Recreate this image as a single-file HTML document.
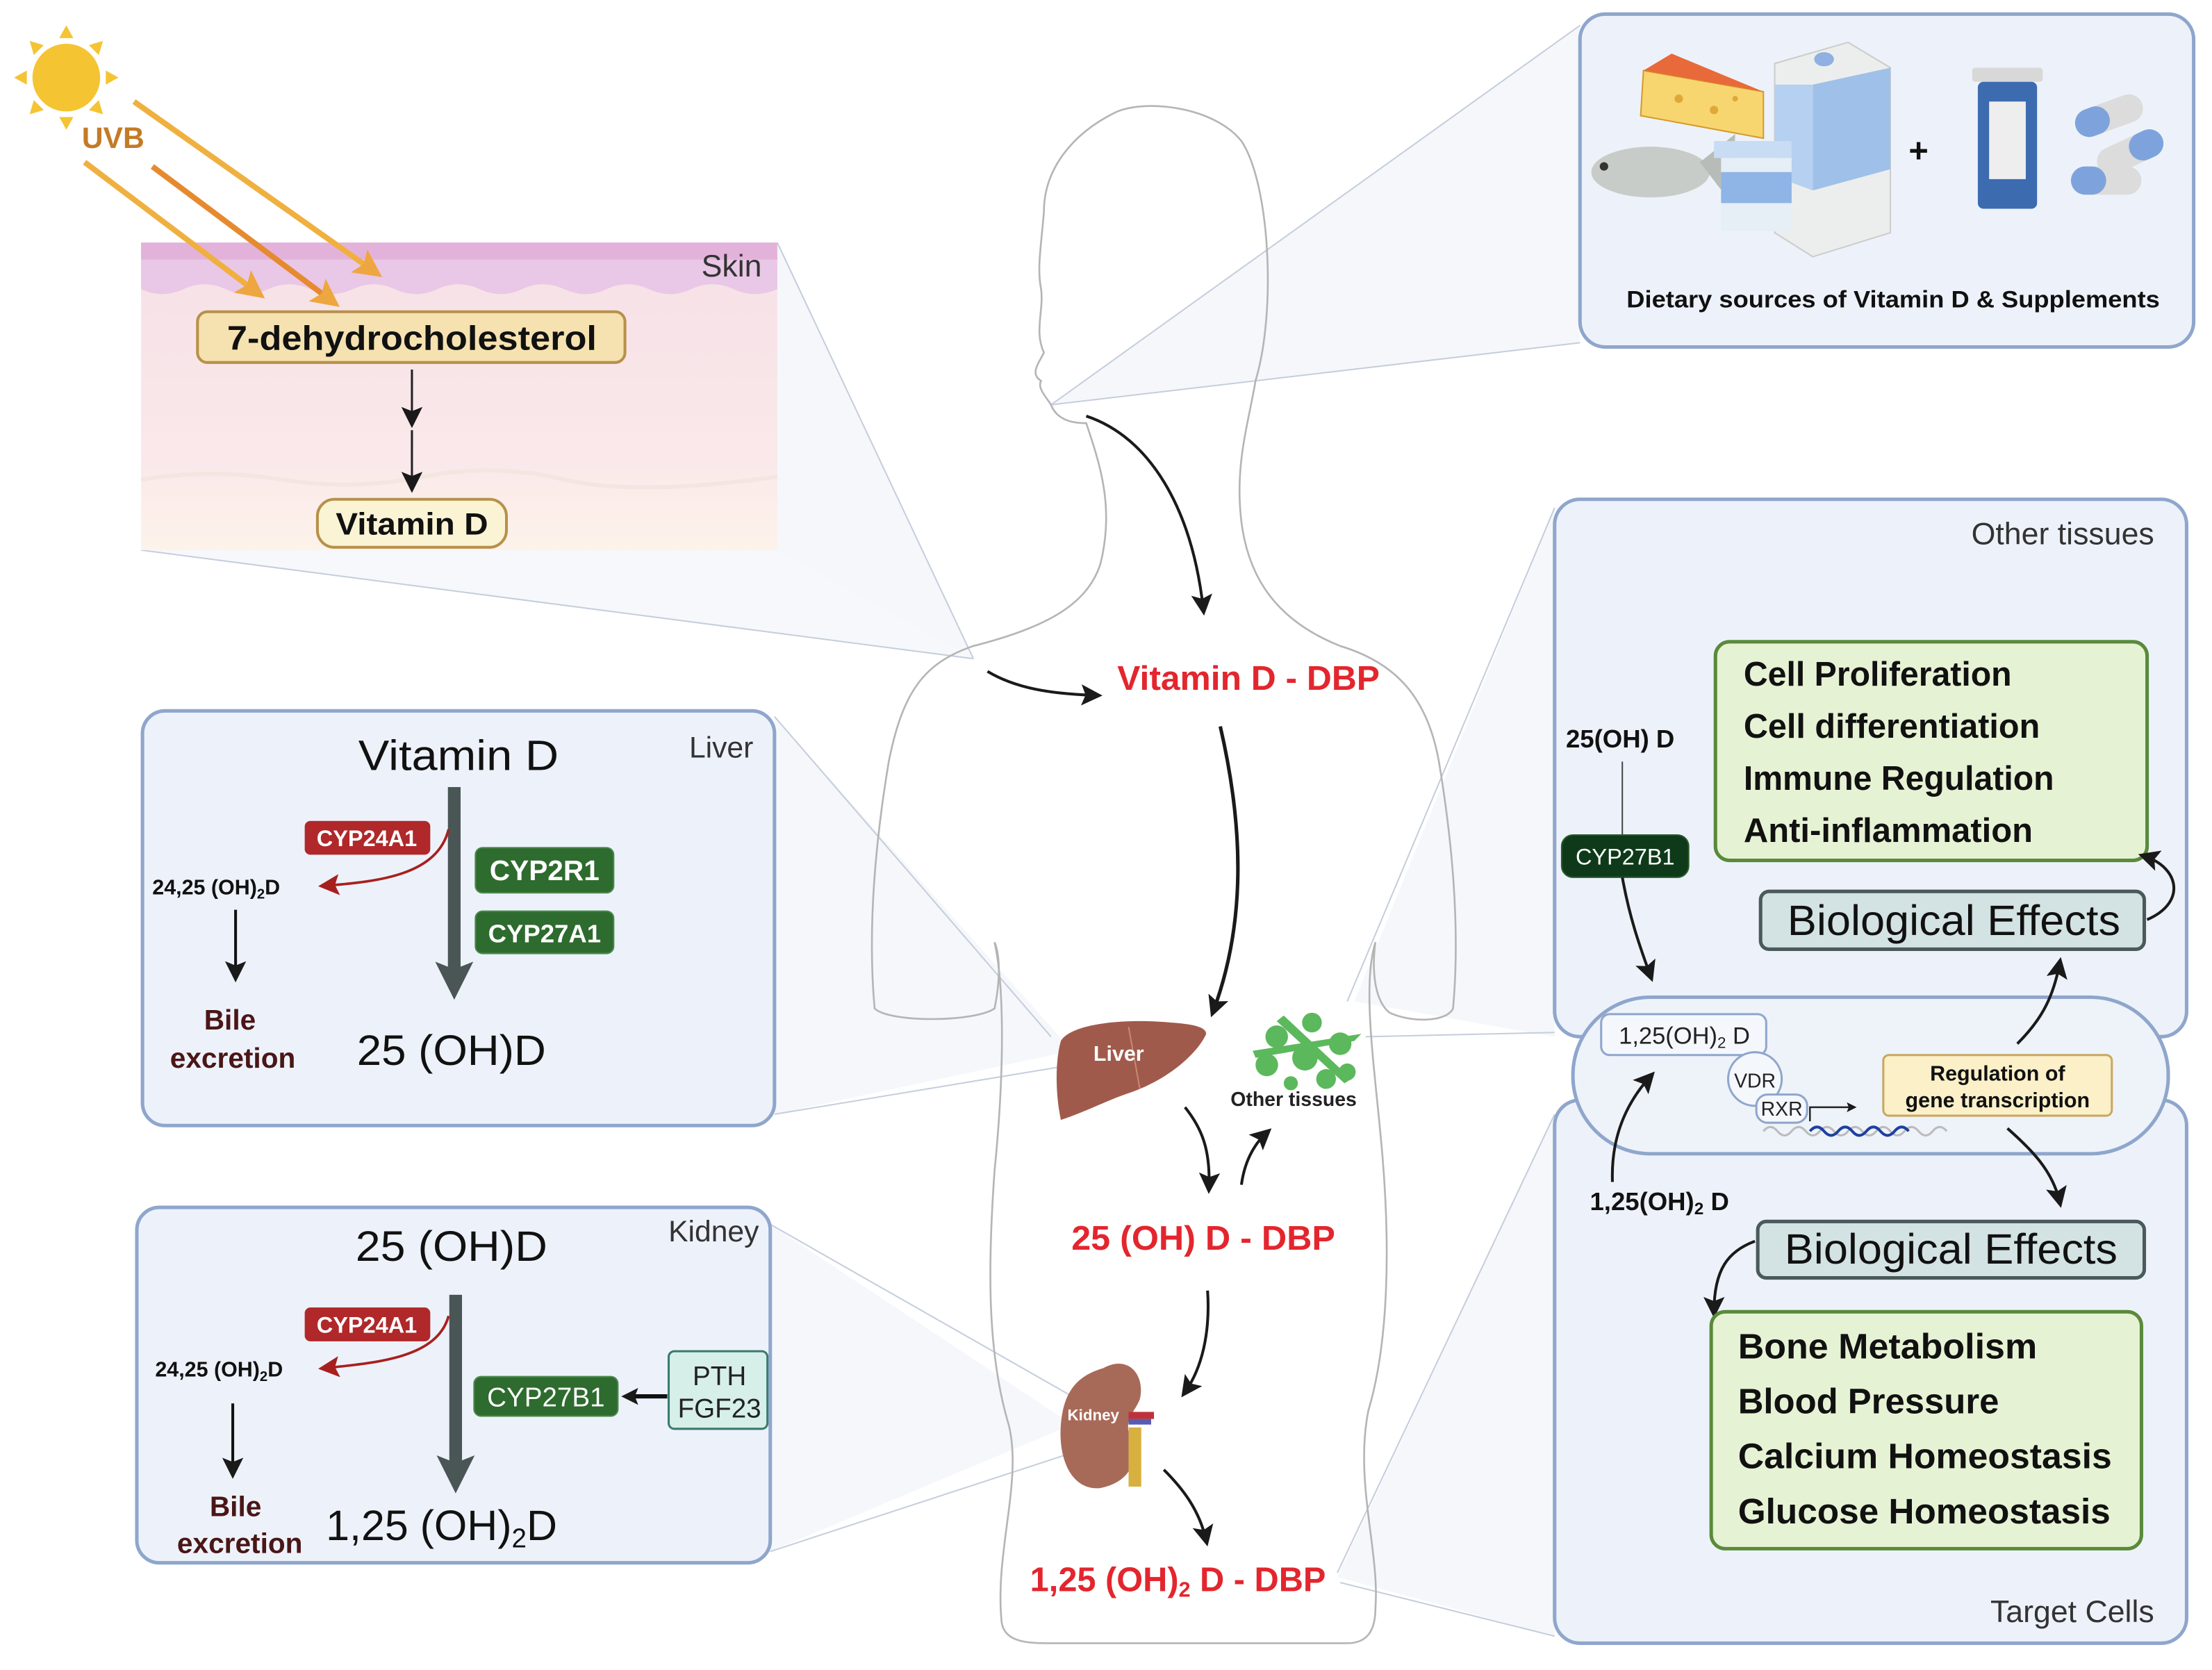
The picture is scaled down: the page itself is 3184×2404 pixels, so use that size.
<!DOCTYPE html>
<html><head><meta charset="utf-8"><style>
html,body{margin:0;padding:0;background:#fff;}
svg{display:block;}
text{font-family:"Liberation Sans",sans-serif;}
</style></head><body>
<svg width="3184" height="2404" viewBox="0 0 1568 1184" preserveAspectRatio="none" xmlns="http://www.w3.org/2000/svg">
<defs>
<marker id="ab" viewBox="0 0 10 10" refX="7" refY="5" markerUnits="userSpaceOnUse" markerWidth="15" markerHeight="15" orient="auto"><path d="M0,0 L10,5 L0,10 L2,5z" fill="#1a1a1a"/></marker>
<marker id="ab2" viewBox="0 0 10 10" refX="7" refY="5" markerUnits="userSpaceOnUse" markerWidth="12" markerHeight="12" orient="auto"><path d="M0,0 L10,5 L0,10 L2,5z" fill="#1a1a1a"/></marker>
<marker id="ab3" viewBox="0 0 10 10" refX="7" refY="5" markerUnits="userSpaceOnUse" markerWidth="7" markerHeight="7" orient="auto"><path d="M0,0 L10,5 L0,10 L2,5z" fill="#1a1a1a"/></marker>
<marker id="ag" viewBox="0 0 10 10" refX="6" refY="5" markerWidth="3" markerHeight="3" orient="auto"><path d="M0,0 L10,5 L0,10 L2,5z" fill="#4a5656"/></marker>
<marker id="ar" viewBox="0 0 10 10" refX="7" refY="5" markerUnits="userSpaceOnUse" markerWidth="15" markerHeight="15" orient="auto"><path d="M0,0 L10,5 L0,10 L2,5z" fill="#a8201e"/></marker>
<marker id="ao" viewBox="0 0 10 10" refX="7" refY="5" markerWidth="5" markerHeight="5" orient="auto"><path d="M0,0 L10,5 L0,10 L2,5z" fill="#eea640"/></marker>
<linearGradient id="skin" x1="0" y1="0" x2="0" y2="1">
<stop offset="0" stop-color="#f6e1e6"/><stop offset="0.7" stop-color="#fae8ea"/><stop offset="1" stop-color="#fdf3ea"/></linearGradient>
</defs>

<polygon points="551,172 551,390 690,467" fill="#eef2f8" opacity="0.6"/>
<polygon points="100,390 551,390 690,467" fill="#eef2f8" opacity="0.5"/>
<line x1="551" y1="172" x2="690" y2="467" stroke="#c5cedc" stroke-width="1"/>
<line x1="100" y1="390" x2="690" y2="467" stroke="#c5cedc" stroke-width="1"/>
<polygon points="1120,18 1120,243 745,287" fill="#eef2f8" opacity="0.6"/>
<line x1="1120" y1="18" x2="745" y2="287" stroke="#c5cedc"/>
<line x1="1120" y1="243" x2="745" y2="287" stroke="#c5cedc"/>
<polygon points="549,508 549,790 760,745" fill="#eef2f8" opacity="0.6"/>
<line x1="549" y1="508" x2="745" y2="735" stroke="#c5cedc"/>
<line x1="549" y1="790" x2="760" y2="755" stroke="#c5cedc"/>
<polygon points="546,868 546,1100 760,1010" fill="#eef2f8" opacity="0.6"/>
<line x1="546" y1="868" x2="760" y2="990" stroke="#c5cedc"/>
<line x1="546" y1="1100" x2="760" y2="1030" stroke="#c5cedc"/>
<polygon points="1102,360 1102,735 960,710" fill="#eef2f8" opacity="0.6"/>
<line x1="1102" y1="360" x2="955" y2="710" stroke="#c5cedc"/>
<line x1="1102" y1="732" x2="968" y2="735" stroke="#c5cedc"/>
<polygon points="1102,790 1102,1160 948,1118" fill="#eef2f8" opacity="0.6"/>
<line x1="1102" y1="790" x2="948" y2="1115" stroke="#c5cedc"/>
<line x1="1102" y1="1160" x2="950" y2="1122" stroke="#c5cedc"/>

<path d="M745,287 C750,300 765,300 770,300 C780,330 790,360 780,400 C770,430 740,445 690,458 C655,470 640,490 630,540 C620,600 615,660 620,715 C630,725 690,725 705,715 C710,690 708,675 705,668 C712,700 712,760 705,830 C700,900 700,960 715,1010 C725,1050 705,1100 710,1150 C712,1165 730,1165 745,1165 L955,1165 C970,1165 975,1155 975,1140 C978,1100 960,1050 970,1000 C985,950 985,880 980,820 C975,760 965,700 975,668 C972,690 975,710 985,718 C1000,725 1025,725 1030,715 C1035,660 1030,600 1020,540 C1012,495 990,470 950,458 C905,440 885,410 880,370 C875,330 885,300 890,270 C905,220 900,130 880,100 C860,75 810,70 790,80 C760,95 740,120 740,150 C738,175 735,190 738,205 C740,220 733,235 740,250 C736,258 730,265 738,270 C735,275 742,282 745,287 Z" fill="none" stroke="#b5b5b5" stroke-width="1.3"/>

<g fill="#f5c433">
<circle cx="47" cy="55" r="24"/>
<polygon points="47,18 42,27 52,27"/><polygon points="47,92 42,83 52,83"/>
<polygon points="10,55 19,50 19,60"/><polygon points="84,55 75,50 75,60"/>
<polygon points="21,29 24,39 31,32"/><polygon points="73,29 63,32 70,39"/>
<polygon points="21,81 31,78 24,71"/><polygon points="73,81 70,71 63,78"/>
</g>
<text x="58" y="105" font-size="21" font-weight="bold" fill="#c47a26">UVB</text>

<rect x="100" y="172" width="451" height="218" fill="url(#skin)"/>
<path d="M100,172 H551 V205 Q535,212 520,205 T490,205 T460,205 T430,205 T400,205 T370,205 T340,205 T310,205 T280,205 T250,205 T220,205 T190,205 T160,205 T130,205 T100,205 Z" fill="#e9c7e6"/>
<rect x="100" y="172" width="451" height="12" fill="#e3b2da"/>
<path d="M100,340 Q150,332 200,340 T300,338 T400,340 T551,338" fill="none" stroke="#f3e6e0" stroke-width="3"/>
<text x="540" y="196" font-size="22" fill="#333" text-anchor="end">Skin</text>
<line x1="60" y1="115" x2="183" y2="208" stroke="#f0b040" stroke-width="4" marker-end="url(#ao)"/>
<line x1="108" y1="118" x2="236" y2="214" stroke="#e68a30" stroke-width="4" marker-end="url(#ao)"/>
<line x1="95" y1="72" x2="266" y2="193" stroke="#f0b040" stroke-width="4" marker-end="url(#ao)"/>
<rect x="140" y="221" width="303" height="36" rx="7" fill="#f5e2b0" stroke="#b8904a" stroke-width="2"/>
<text x="292" y="248" font-size="24" font-weight="bold" fill="#111" text-anchor="middle" textLength="262" lengthAdjust="spacingAndGlyphs">7-dehydrocholesterol</text>
<line x1="292" y1="262" x2="292" y2="299" stroke="#222" stroke-width="1.5" marker-end="url(#ab)"/>
<line x1="292" y1="305" x2="292" y2="345" stroke="#222" stroke-width="1.5" marker-end="url(#ab)"/>
<rect x="225" y="354" width="134" height="34" rx="12" fill="#fbf4d4" stroke="#b8904a" stroke-width="2"/>
<text x="292" y="379" font-size="22" font-weight="bold" fill="#111" text-anchor="middle" textLength="108" lengthAdjust="spacingAndGlyphs">Vitamin D</text>

<rect x="1120" y="10" width="435" height="236" rx="18" fill="#edf2fa" stroke="#8fa6cc" stroke-width="2.5"/>
<polygon points="1165,50 1250,65 1250,98 1163,82" fill="#f7d670" stroke="#d69a2a"/>
<polygon points="1165,50 1185,38 1250,65" fill="#e86a3a"/>
<circle cx="1190" cy="70" r="3" fill="#e0a838"/><circle cx="1215" cy="78" r="3" fill="#e0a838"/><circle cx="1230" cy="70" r="2" fill="#e0a838"/>
<ellipse cx="1170" cy="122" rx="42" ry="18" fill="#c8ccc8"/>
<polygon points="1205,115 1230,95 1228,145" fill="#b8bcb8"/>
<circle cx="1137" cy="118" r="3" fill="#333"/>
<polygon points="1258,45 1310,30 1340,48 1340,165 1285,182 1258,165" fill="#eceeee" stroke="#ccc"/>
<polygon points="1285,60 1340,48 1340,120 1285,135" fill="#9fc0e8"/>
<polygon points="1258,60 1285,60 1285,135 1258,125" fill="#b5d0f0"/>
<ellipse cx="1293" cy="42" rx="7" ry="5" fill="#8fb0e0"/>
<rect x="1215" y="100" width="55" height="12" fill="#c8dcf4"/>
<rect x="1220" y="112" width="50" height="52" fill="#e6eef6"/>
<rect x="1220" y="122" width="50" height="22" fill="#8fb4e6"/>
<text x="1360" y="115" font-size="24" font-weight="bold" fill="#111" text-anchor="middle">+</text>
<rect x="1398" y="48" width="50" height="10" rx="2" fill="#d8d8d8"/>
<rect x="1402" y="58" width="42" height="90" rx="4" fill="#3c6bb0"/>
<rect x="1410" y="72" width="26" height="55" fill="#eeeeee"/>
<g transform="rotate(-20 1495 82)"><rect x="1470" y="72" width="50" height="20" rx="10" fill="#dcdcdc"/><rect x="1470" y="72" width="25" height="20" rx="10" fill="#7ea3dc"/></g>
<g transform="rotate(-25 1510 108)"><rect x="1485" y="98" width="50" height="20" rx="10" fill="#dcdcdc"/><rect x="1510" y="98" width="25" height="20" rx="10" fill="#7ea3dc"/></g>
<rect x="1468" y="118" width="50" height="20" rx="10" fill="#dcdcdc"/><rect x="1468" y="118" width="25" height="20" rx="10" fill="#7ea3dc"/>
<text x="1342" y="218" font-size="17" font-weight="bold" fill="#111" text-anchor="middle" textLength="378" lengthAdjust="spacingAndGlyphs">Dietary sources of Vitamin D &amp; Supplements</text>

<rect x="101" y="504" width="448" height="294" rx="16" fill="#edf2fa" stroke="#8fa6cc" stroke-width="2.5"/>
<text x="325" y="546" font-size="30" fill="#111" text-anchor="middle" textLength="142" lengthAdjust="spacingAndGlyphs">Vitamin D</text>
<text x="534" y="537" font-size="21" fill="#333" text-anchor="end">Liver</text>
<line x1="322" y1="558" x2="322" y2="698" stroke="#4a5656" stroke-width="9" marker-end="url(#ag)"/>
<path d="M318,588 C310,620 270,625 230,628" fill="none" stroke="#a8201e" stroke-width="1.8" marker-end="url(#ar)"/>
<rect x="216" y="582" width="89" height="24" rx="4" fill="#b0282a"/>
<text x="260" y="600" font-size="16" font-weight="bold" fill="#fff" text-anchor="middle">CYP24A1</text>
<rect x="337" y="601" width="98" height="32" rx="5" fill="#2e6b2e" stroke="#4d8a4d"/>
<text x="386" y="624" font-size="20" font-weight="bold" fill="#fff" text-anchor="middle">CYP2R1</text>
<rect x="337" y="646" width="98" height="30" rx="5" fill="#2e6b2e" stroke="#4d8a4d"/>
<text x="386" y="668" font-size="18" font-weight="bold" fill="#fff" text-anchor="middle">CYP27A1</text>
<text x="108" y="634" font-size="15" font-weight="bold" fill="#111">24,25 (OH)<tspan font-size="10" dy="3">2</tspan><tspan dy="-3">D</tspan></text>
<line x1="167" y1="645" x2="167" y2="692" stroke="#111" stroke-width="2" marker-end="url(#ab)"/>
<text x="163" y="730" font-size="20" font-weight="bold" fill="#4a1616" text-anchor="middle">Bile</text>
<text x="165" y="757" font-size="20" font-weight="bold" fill="#4a1616" text-anchor="middle">excretion</text>
<text x="320" y="755" font-size="30" fill="#111" text-anchor="middle" textLength="134" lengthAdjust="spacingAndGlyphs">25 (OH)D</text>

<rect x="97" y="856" width="449" height="252" rx="16" fill="#edf2fa" stroke="#8fa6cc" stroke-width="2.5"/>
<text x="320" y="894" font-size="30" fill="#111" text-anchor="middle" textLength="136" lengthAdjust="spacingAndGlyphs">25 (OH)D</text>
<text x="538" y="880" font-size="21" fill="#333" text-anchor="end">Kidney</text>
<line x1="323" y1="918" x2="323" y2="1048" stroke="#4a5656" stroke-width="9" marker-end="url(#ag)"/>
<path d="M318,933 C310,962 270,966 230,970" fill="none" stroke="#a8201e" stroke-width="1.8" marker-end="url(#ar)"/>
<rect x="216" y="927" width="89" height="24" rx="4" fill="#b0282a"/>
<text x="260" y="945" font-size="16" font-weight="bold" fill="#fff" text-anchor="middle">CYP24A1</text>
<text x="110" y="976" font-size="15" font-weight="bold" fill="#111">24,25 (OH)<tspan font-size="10" dy="3">2</tspan><tspan dy="-3">D</tspan></text>
<rect x="336" y="976" width="102" height="28" rx="5" fill="#2e6b2e" stroke="#4d8a4d"/>
<text x="387" y="997" font-size="19" fill="#fff" text-anchor="middle">CYP27B1</text>
<rect x="474" y="958" width="70" height="55" rx="4" fill="#d6efe9" stroke="#3a7a6e" stroke-width="1.5"/>
<text x="510" y="982" font-size="19" fill="#222" text-anchor="middle">PTH</text>
<text x="510" y="1005" font-size="19" fill="#222" text-anchor="middle">FGF23</text>
<line x1="473" y1="990" x2="444" y2="990" stroke="#111" stroke-width="3" marker-end="url(#ab2)"/>
<line x1="165" y1="995" x2="165" y2="1044" stroke="#111" stroke-width="2" marker-end="url(#ab)"/>
<text x="167" y="1075" font-size="20" font-weight="bold" fill="#4a1616" text-anchor="middle">Bile</text>
<text x="170" y="1101" font-size="20" font-weight="bold" fill="#4a1616" text-anchor="middle">excretion</text>
<text x="313" y="1092" font-size="30" fill="#111" text-anchor="middle">1,25 (OH)<tspan font-size="19" dy="5">2</tspan><tspan dy="-5">D</tspan></text>

<path d="M752,738 C760,725 800,722 830,725 C845,726 855,728 855,733 C850,745 830,765 800,775 C785,780 770,788 752,794 C748,775 748,752 752,738 Z" fill="#a05a4c"/>
<line x1="800" y1="728" x2="808" y2="772" stroke="#c58a70" stroke-width="1"/>
<text x="793" y="752" font-size="15" font-weight="bold" fill="#fff" text-anchor="middle">Liver</text>
<g fill="#5cb85c">
<circle cx="905" cy="735" r="8"/><circle cx="930" cy="725" r="7"/><circle cx="950" cy="740" r="8"/><circle cx="898" cy="755" r="8"/>
<circle cx="925" cy="750" r="9"/><circle cx="955" cy="760" r="6"/><circle cx="940" cy="765" r="7"/><circle cx="915" cy="768" r="5"/>
<polygon points="888,745 965,733 960,738 890,750"/><polygon points="910,720 958,765 953,768 905,724"/>
</g>
<text x="917" y="784" font-size="14" font-weight="bold" fill="#222" text-anchor="middle">Other tissues</text>
<path d="M782,970 C800,960 812,975 808,992 C805,1000 798,1005 800,1015 C808,1030 805,1050 780,1055 C760,1057 750,1035 752,1010 C754,985 765,975 782,970 Z" fill="#a86a58"/>
<rect x="800" y="1001" width="18" height="5" fill="#c0303a"/><rect x="800" y="1006" width="16" height="4" fill="#5a5ab0"/>
<rect x="800" y="1012" width="9" height="42" fill="#d8b040"/>
<text x="775" y="1007" font-size="11" font-weight="bold" fill="#fff" text-anchor="middle">Kidney</text>

<path d="M770,295 C815,310 845,360 853,432" fill="none" stroke="#1a1a1a" stroke-width="2" marker-end="url(#ab)"/>
<path d="M700,476 C720,488 745,492 777,493" fill="none" stroke="#1a1a1a" stroke-width="2" marker-end="url(#ab)"/>
<path d="M865,515 C880,580 885,650 860,717" fill="none" stroke="#1a1a1a" stroke-width="2.5" marker-end="url(#ab)"/>
<path d="M840,785 C852,800 858,815 857,842" fill="none" stroke="#1a1a1a" stroke-width="2" marker-end="url(#ab)"/>
<path d="M880,840 C882,825 888,812 898,803" fill="none" stroke="#1a1a1a" stroke-width="2" marker-end="url(#ab)"/>
<path d="M856,915 C858,945 852,970 840,987" fill="none" stroke="#1a1a1a" stroke-width="2" marker-end="url(#ab)"/>
<path d="M825,1042 C838,1055 850,1070 855,1092" fill="none" stroke="#1a1a1a" stroke-width="2" marker-end="url(#ab)"/>
<text x="885" y="489" font-size="24" font-weight="bold" fill="#e3262e" text-anchor="middle" textLength="186" lengthAdjust="spacingAndGlyphs">Vitamin D - DBP</text>
<text x="853" y="886" font-size="24" font-weight="bold" fill="#e3262e" text-anchor="middle" textLength="187" lengthAdjust="spacingAndGlyphs">25 (OH) D - DBP</text>
<text x="835" y="1128" font-size="24" font-weight="bold" fill="#e3262e" text-anchor="middle">1,25 (OH)<tspan font-size="15" dy="4">2</tspan><tspan dy="-4"> D - DBP</tspan></text>

<rect x="1102" y="354" width="448" height="381" rx="18" fill="#edf2fa" stroke="#8fa6cc" stroke-width="2.5"/>
<text x="1527" y="386" font-size="22" fill="#333" text-anchor="end">Other tissues</text>
<rect x="1216" y="455" width="306" height="155" rx="10" fill="#e6f2d4" stroke="#5a8a3a" stroke-width="2.5"/>
<text x="1236" y="486" font-size="24" font-weight="bold" fill="#111" textLength="190" lengthAdjust="spacingAndGlyphs">Cell Proliferation</text>
<text x="1236" y="523" font-size="24" font-weight="bold" fill="#111" textLength="210" lengthAdjust="spacingAndGlyphs">Cell differentiation</text>
<text x="1236" y="560" font-size="24" font-weight="bold" fill="#111" textLength="220" lengthAdjust="spacingAndGlyphs">Immune Regulation</text>
<text x="1236" y="597" font-size="24" font-weight="bold" fill="#111" textLength="205" lengthAdjust="spacingAndGlyphs">Anti-inflammation</text>
<text x="1110" y="530" font-size="18" font-weight="bold" fill="#111">25(OH) D</text>
<line x1="1150" y1="540" x2="1150" y2="592" stroke="#444" stroke-width="1"/>
<rect x="1107" y="592" width="90" height="30" rx="8" fill="#0f3a1a" stroke="#2a5a2a"/>
<text x="1152" y="613" font-size="16" fill="#fff" text-anchor="middle">CYP27B1</text>
<path d="M1150,622 C1155,650 1162,670 1170,692" fill="none" stroke="#1a1a1a" stroke-width="2" marker-end="url(#ab)"/>
<rect x="1248" y="632" width="272" height="41" rx="6" fill="#d3e2e2" stroke="#4a5a5a" stroke-width="2.5"/>
<text x="1385" y="663" font-size="30" fill="#111" text-anchor="middle" textLength="236" lengthAdjust="spacingAndGlyphs">Biological Effects</text>
<path d="M1522,652 C1550,640 1545,615 1520,607" fill="none" stroke="#1a1a1a" stroke-width="2" marker-end="url(#ab)"/>

<rect x="1102" y="780" width="448" height="385" rx="18" fill="#edf2fa" stroke="#8fa6cc" stroke-width="2.5"/>
<text x="1527" y="1150" font-size="22" fill="#333" text-anchor="end">Target Cells</text>

<rect x="1115" y="707" width="422" height="111" rx="55" fill="#eef3fa" stroke="#8fa6cc" stroke-width="2.5"/>
<rect x="1135" y="719" width="117" height="29" rx="6" fill="#f4f7fc" stroke="#8fa6cc" stroke-width="1.5"/>
<text x="1194" y="740" font-size="17" fill="#222" text-anchor="middle">1,25(OH)<tspan font-size="11" dy="3">2</tspan><tspan dy="-3"> D</tspan></text>
<circle cx="1244" cy="765" r="19" fill="#f4f7fc" stroke="#8fa6cc" stroke-width="1.5"/>
<text x="1244" y="771" font-size="14" fill="#222" text-anchor="middle">VDR</text>
<rect x="1245" y="776" width="36" height="20" rx="8" fill="#f4f7fc" stroke="#8fa6cc" stroke-width="1.5"/>
<text x="1263" y="791" font-size="14" fill="#222" text-anchor="middle">RXR</text>
<path d="M1283,795 V785 H1314" fill="none" stroke="#222" stroke-width="1.2" marker-end="url(#ab3)"/>
<path d="M1250,802 q5,-6 10,0 t10,0 t10,0 t10,0 t10,0 t10,0 t10,0 t10,0 t10,0 t10,0 t10,0 t10,0 t10,0" fill="none" stroke="#bbb" stroke-width="1.5"/>
<path d="M1283,802 q5,-6 10,0 t10,0 t10,0 t10,0 t10,0 t10,0 t10,0" fill="none" stroke="#1f3fa0" stroke-width="2"/>
<rect x="1335" y="748" width="162" height="43" rx="4" fill="#fbf0c8" stroke="#c8a860" stroke-width="1.5"/>
<text x="1416" y="766" font-size="15" font-weight="bold" fill="#111" text-anchor="middle">Regulation of</text>
<text x="1416" y="785" font-size="15" font-weight="bold" fill="#111" text-anchor="middle">gene transcription</text>
<path d="M1430,740 C1445,725 1455,710 1460,683" fill="none" stroke="#1a1a1a" stroke-width="2" marker-end="url(#ab)"/>
<path d="M1423,800 C1440,815 1455,830 1460,852" fill="none" stroke="#1a1a1a" stroke-width="2" marker-end="url(#ab)"/>
<path d="M1143,838 C1142,810 1150,785 1170,763" fill="none" stroke="#1a1a1a" stroke-width="2" marker-end="url(#ab)"/>
<text x="1127" y="858" font-size="18" font-weight="bold" fill="#111">1,25(OH)<tspan font-size="12" dy="3">2</tspan><tspan dy="-3"> D</tspan></text>
<rect x="1246" y="866" width="274" height="40" rx="6" fill="#d3e2e2" stroke="#4a5a5a" stroke-width="2.5"/>
<text x="1383" y="896" font-size="30" fill="#111" text-anchor="middle" textLength="236" lengthAdjust="spacingAndGlyphs">Biological Effects</text>
<path d="M1244,880 C1225,887 1215,900 1215,930" fill="none" stroke="#1a1a1a" stroke-width="2" marker-end="url(#ab)"/>
<rect x="1213" y="930" width="305" height="168" rx="10" fill="#e6f2d4" stroke="#5a8a3a" stroke-width="2.5"/>
<text x="1232" y="963" font-size="25" font-weight="bold" fill="#111" textLength="212" lengthAdjust="spacingAndGlyphs">Bone Metabolism</text>
<text x="1232" y="1002" font-size="25" font-weight="bold" fill="#111" textLength="185" lengthAdjust="spacingAndGlyphs">Blood Pressure</text>
<text x="1232" y="1041" font-size="25" font-weight="bold" fill="#111" textLength="265" lengthAdjust="spacingAndGlyphs">Calcium Homeostasis</text>
<text x="1232" y="1080" font-size="25" font-weight="bold" fill="#111" textLength="264" lengthAdjust="spacingAndGlyphs">Glucose Homeostasis</text>
</svg>
</body></html>
